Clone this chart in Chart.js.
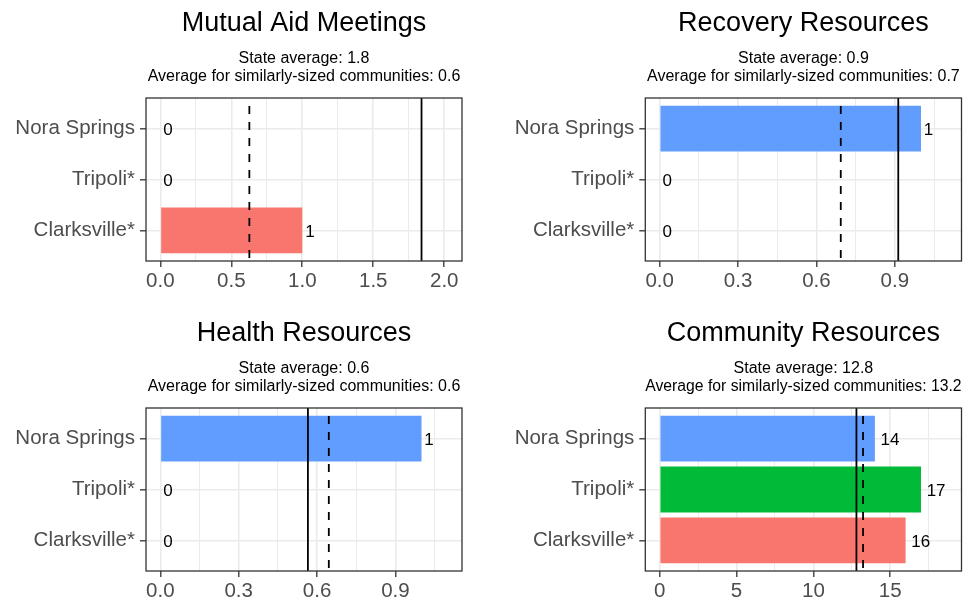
<!DOCTYPE html>
<html lang="en">
<head>
  <meta charset="UTF-8">
  <title>Community resources by town</title>
  <script src="https://cdn.jsdelivr.net/npm/chart.js@4.4.0/dist/chart.umd.min.js"></script>
  <style>
    html, body { margin: 0; padding: 0; background: #ffffff; overflow: hidden; }
    #wrap { position: relative; width: 968px; height: 602px; }
    .panel { position: absolute; width: 484px; height: 292px; }
    .panel canvas { display: block; }
  </style>
</head>
<body>
  <div id="wrap">
    <div class="panel" style="left:0px; top:0px;"><canvas id="c0" width="484" height="292"></canvas></div>
    <div class="panel" style="left:484px; top:0px;"><canvas id="c1" width="484" height="292"></canvas></div>
    <div class="panel" style="left:0px; top:310px;"><canvas id="c2" width="484" height="292"></canvas></div>
    <div class="panel" style="left:484px; top:310px;"><canvas id="c3" width="484" height="292"></canvas></div>
  </div>

  <script>
    // data -- bottom to top, same order as ggplot factor levels
    const categories = ['Clarksville*', 'Tripoli*', 'Nora Springs'];
    const barColors = ['#F8766D', '#00BA38', '#619CFF'];

    const panelTitles = ['Mutual Aid Meetings', 'Recovery Resources', 'Health Resources', 'Community Resources'];
    const mutualAid = [1, 0, 0];
    const recovery = [0, 0, 1];
    const health = [0, 0, 1];
    const community = [16, 17, 14];

    // solid line = state average, dashed line = similarly-sized communities
    const stateAvg = [1.84, 0.913, 0.565, 12.8];
    const similarAvg = [0.627, 0.693, 0.645, 13.23];

    const mutualTicks = ['0.0', '0.5', '1.0', '1.5', '2.0'];
    const recoveryTicks = ['0.0', '0.3', '0.6', '0.9'];
    const healthTicks = ['0.0', '0.3', '0.6', '0.9'];
    const communityTicks = ['0', '5', '10', '15'];

    const panelValues = [mutualAid, recovery, health, community];
    const panelTicks = [mutualTicks, recoveryTicks, healthTicks, communityTicks];

    // layout per panel (left column / right column)
    const yAxisWidth = [146, 161.3, 146, 161.3];
    const rightPad = [22, 6.5, 22, 6.5];

    const FONT = '"Liberation Sans", Arial, sans-serif';
    const GRID = '#EBEBEB';
    const DARK = '#333333';

    function makeChart(i) {
      const values = panelValues[i];
      const majors = panelTicks[i].map(parseFloat);
      const step = majors[1] - majors[0];
      const top = 1.1 * Math.max(...values, stateAvg[i], similarAvg[i]);
      const xMin = -0.05 * top;
      const xMax = 1.05 * top;

      const isMajor = v => majors.some(m => Math.abs(m - v) < step / 100);

      // overlay: reference lines, value labels, panel border
      const overlay = {
        id: 'overlay' + i,
        afterDatasetsDraw(chart) {
          const {ctx, chartArea: a, scales: {x, y}} = chart;
          ctx.save();

          // reference lines
          ctx.strokeStyle = '#000000';
          ctx.lineWidth = 1.8;
          ctx.beginPath();
          const xs = x.getPixelForValue(stateAvg[i]);
          ctx.moveTo(xs, a.bottom);
          ctx.lineTo(xs, a.top);
          ctx.stroke();

          ctx.setLineDash([8, 8]);
          ctx.lineDashOffset = 13;
          ctx.beginPath();
          const xd = x.getPixelForValue(similarAvg[i]);
          ctx.moveTo(xd, a.bottom);
          ctx.lineTo(xd, a.top);
          ctx.stroke();
          ctx.setLineDash([]);

          // value labels
          ctx.font = '17px ' + FONT;
          ctx.fillStyle = '#000000';
          ctx.textAlign = 'left';
          ctx.textBaseline = 'alphabetic';
          values.forEach((v, k) => {
            const txt = String(v);
            const w = ctx.measureText(txt).width;
            const px = x.getPixelForValue(v);
            const py = y.getPixelForValue(k + 1);
            ctx.fillText(txt, px + 0.3 * w, py + 6.5);
          });

          // panel border
          ctx.strokeStyle = DARK;
          ctx.lineWidth = 1.3;
          ctx.strokeRect(a.left, a.top, a.width, a.height);
          ctx.restore();
        }
      };

      const elChart = document.getElementById('c' + i).getContext('2d');
      return new Chart(elChart, {
        type: 'bar',
        data: {
          datasets: [{
            data: categories.map((c, k) => ({x: values[k], y: k + 1})),
            backgroundColor: barColors,
            borderWidth: 0,
            categoryPercentage: 1,
            barPercentage: 0.9
          }]
        },
        options: {
          indexAxis: 'y',
          responsive: false,
          animation: false,
          events: [],
          layout: { padding: { left: 0, right: rightPad[i], top: 0, bottom: 0 } },
          scales: {
            x: {
              type: 'linear',
              bounds: 'data',
              offset: false,
              min: xMin,
              max: xMax,
              afterBuildTicks: scale => {
                const minors = [majors[0] - step / 2].concat(majors.map(m => m + step / 2));
                scale.ticks = majors.concat(minors)
                  .filter(v => v >= xMin && v <= xMax)
                  .sort((p, q) => p - q)
                  .map(v => ({value: v}));
              },
              afterFit: scale => { scale.height = 31; },
              border: { display: false },
              grid: {
                offset: false,
                color: GRID,
                lineWidth: ctx => isMajor(ctx.tick.value) ? 1.6 : 1.0,
                tickColor: ctx => isMajor(ctx.tick.value) ? DARK : 'rgba(0,0,0,0)',
                tickWidth: 1.3,
                tickLength: 6
              },
              ticks: {
                autoSkip: false,
                maxRotation: 0,
                minRotation: 0,
                padding: 2,
                color: '#4D4D4D',
                font: { family: FONT, size: 20.5, lineHeight: 1.2 },
                callback: value => {
                  const idx = majors.findIndex(m => Math.abs(m - value) < step / 100);
                  return idx >= 0 ? panelTicks[i][idx] : '';
                }
              }
            },
            y: {
              type: 'linear',
              bounds: 'data',
              offset: false,
              min: 0.4,
              max: 3.6,
              afterBuildTicks: scale => {
                scale.ticks = categories.map((c, k) => ({value: k + 1}));
              },
              afterFit: scale => { scale.width = yAxisWidth[i]; },
              border: { display: false },
              grid: {
                offset: false,
                color: GRID,
                lineWidth: 1.6,
                tickColor: DARK,
                tickWidth: 1.3,
                tickLength: 6
              },
              ticks: {
                autoSkip: false,
                padding: 5,
                color: '#4D4D4D',
                font: { family: FONT, size: 20.5 },
                callback: value => categories[Math.round(value) - 1]
              }
            }
          },
          plugins: {
            legend: { display: false },
            tooltip: { enabled: false },
            title: {
              display: true,
              text: panelTitles[i],
              fullSize: false,
              color: '#000000',
              font: { family: FONT, size: 27, weight: 'normal', lineHeight: 1.2 },
              padding: { top: 7.7, bottom: 9.4 }
            },
            subtitle: {
              display: true,
              text: [
                'State average: ' + stateAvg[i].toFixed(1),
                'Average for similarly-sized communities: ' + similarAvg[i].toFixed(1)
              ],
              fullSize: false,
              color: '#000000',
              font: { family: FONT, size: 16, weight: 'normal', lineHeight: 1.125 },
              padding: { top: 0, bottom: 12.5 }
            }
          }
        },
        plugins: [overlay]
      });
    }

    panelTitles.forEach((t, i) => makeChart(i));
  </script>
</body>
</html>
